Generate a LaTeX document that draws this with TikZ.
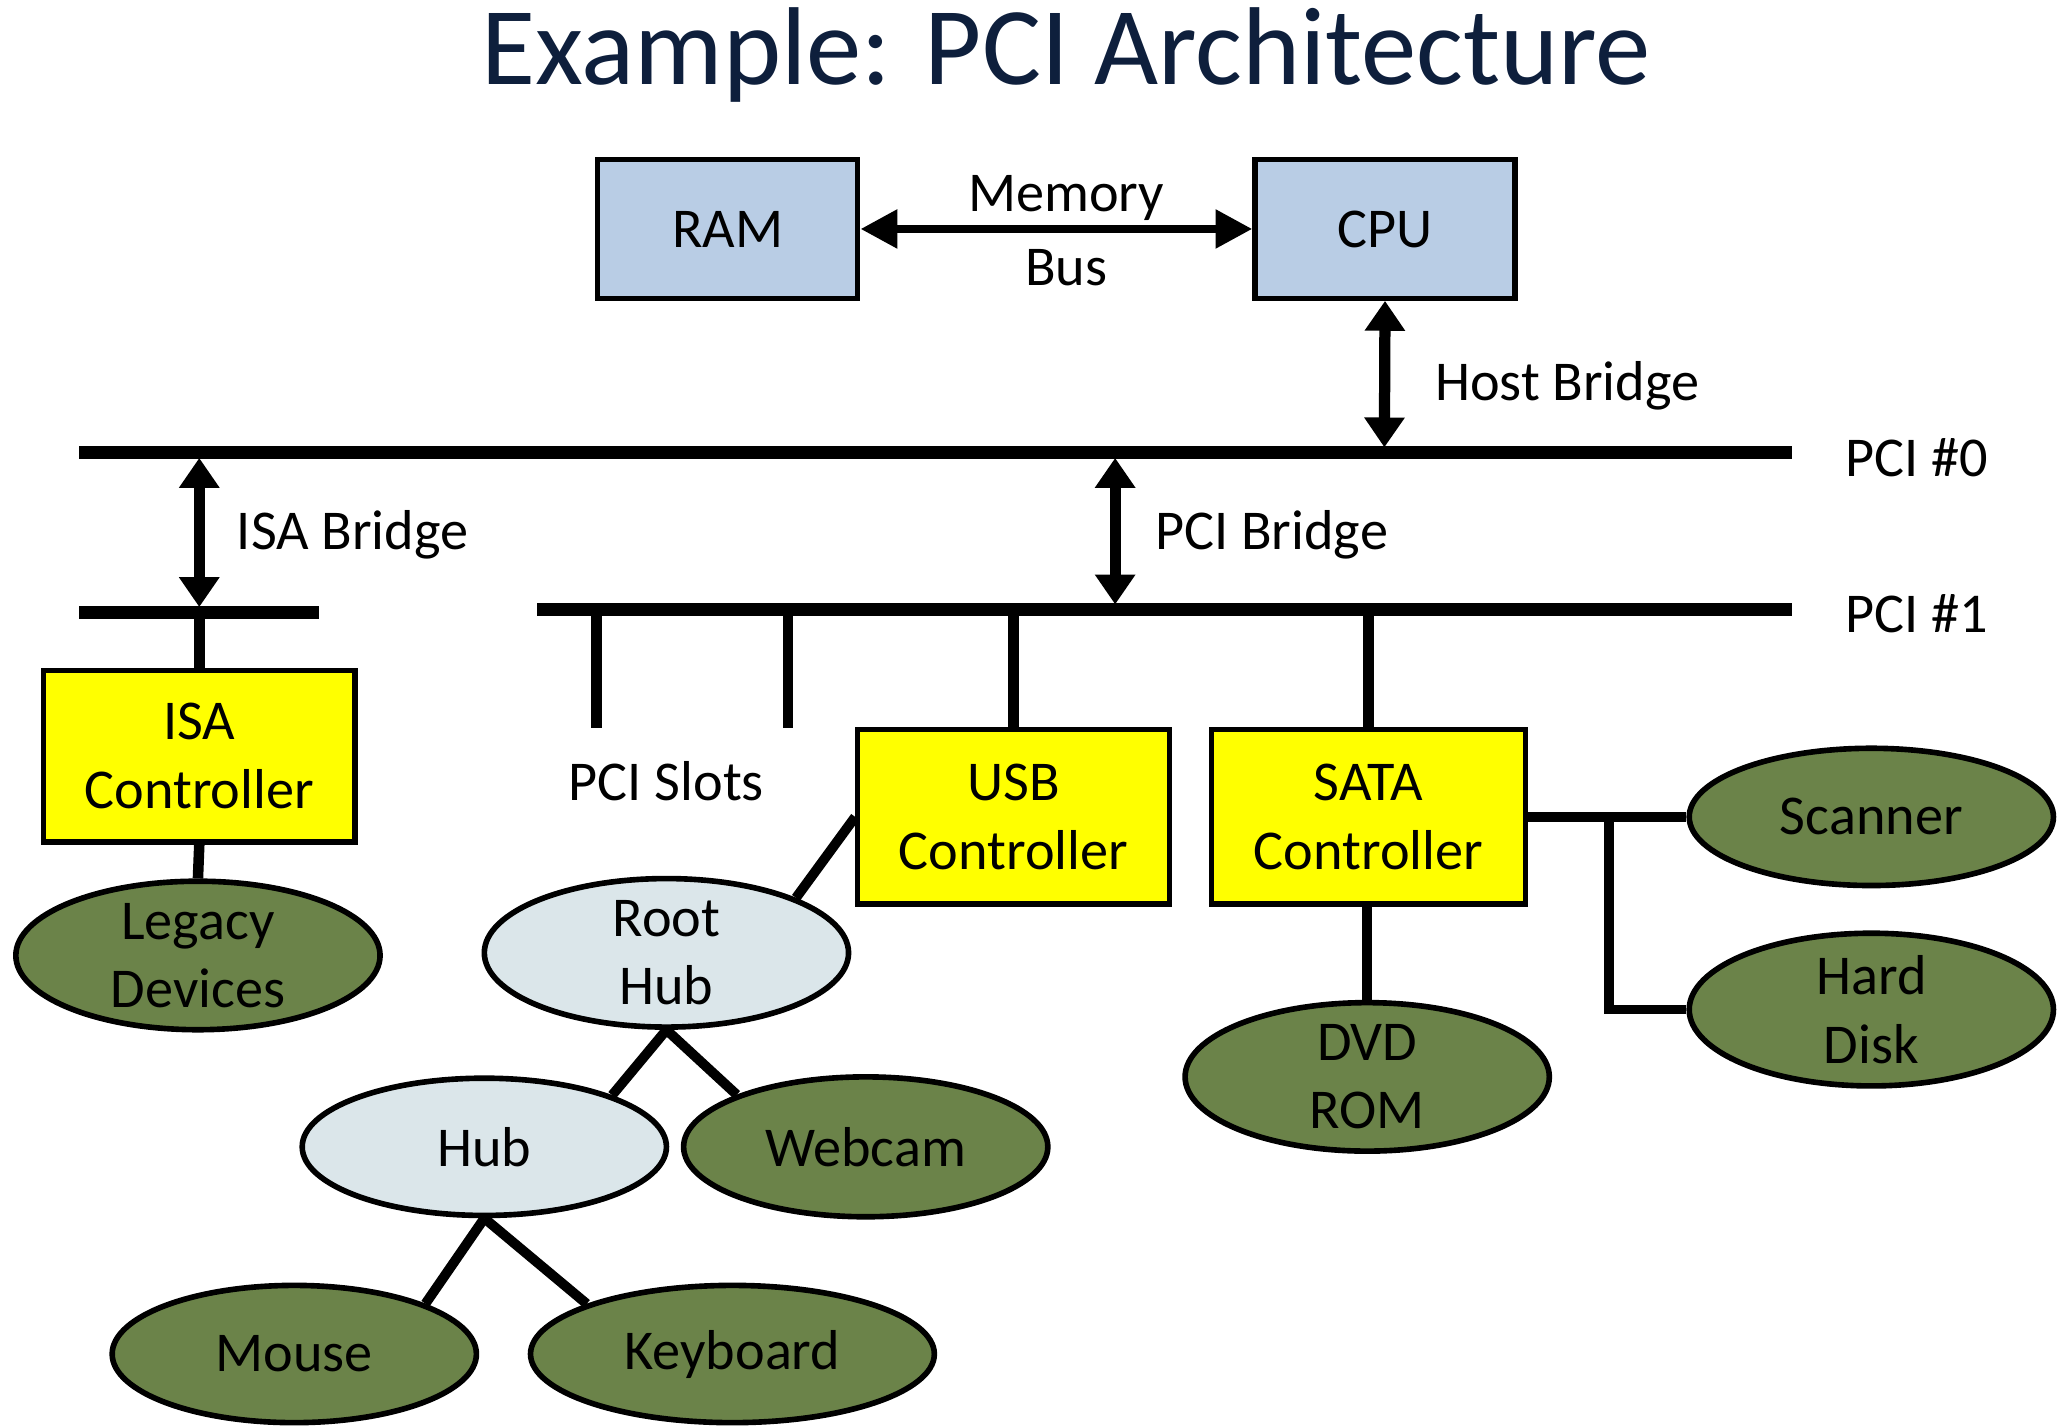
\documentclass[tikz,border=0pt]{standalone}
\usepackage{fontspec}
\setmainfont{Carlito}
\usetikzlibrary{arrows.meta,shapes.geometric}
\definecolor{ramblue}{HTML}{B9CDE5}
\definecolor{ctrlyellow}{HTML}{FFFF00}
\definecolor{devgreen}{HTML}{6B8349}
\definecolor{hubgrey}{HTML}{DBE6EA}
\definecolor{titlenavy}{HTML}{0E1F3C}
\newcommand{\pxu}{0.0132cm}
\tikzset{
  txt/.style={font=\fontsize{16}{19.5}\selectfont, align=center, inner sep=0pt},
  boxnode/.style={draw=black, line width=1.5pt, rectangle, inner sep=0pt, txt},
  devnode/.style={draw=black, line width=1.6pt, ellipse, inner sep=0pt, fill=devgreen, txt},
  hubnode/.style={draw=black, line width=1.6pt, ellipse, inner sep=0pt, fill=hubgrey, txt},
  busline/.style={line width=3.6pt},
  stubline/.style={line width=3pt},
  conn/.style={line width=2.8pt},
  dblarrow/.style={line width=2.5pt, {Triangle[length=10.5pt,width=10.5pt]}-{Triangle[length=10.5pt,width=10.5pt]}},
  vdblarrow/.style={line width=3.2pt, {Triangle[length=8.5pt,width=11pt]}-{Triangle[length=8.5pt,width=11pt]}},
}
\begin{document}
\begin{tikzpicture}[x=\pxu, y=-\pxu]
\useasboundingbox (0,0) rectangle (1564,1082);
\node[anchor=base, text=titlenavy, font=\fontsize{31.5}{36}\selectfont, inner sep=0pt] (title) at (808,64) {Example: PCI Architecture};

% boxes
\node[boxnode, fill=ramblue, minimum width=197*\pxu, minimum height=105*\pxu] (ram) at (551.5,173.5) {RAM};
\node[boxnode, fill=ramblue, minimum width=197*\pxu, minimum height=105*\pxu] (cpu) at (1049.5,173.5) {CPU};
\node[boxnode, fill=ctrlyellow, minimum width=236*\pxu, minimum height=130*\pxu] (isa) at (151,573) {ISA\\Controller};
\node[boxnode, fill=ctrlyellow, minimum width=236*\pxu, minimum height=132*\pxu] (usb) at (768,619) {USB\\Controller};
\node[boxnode, fill=ctrlyellow, minimum width=238*\pxu, minimum height=132*\pxu] (sata) at (1037,619) {SATA\\Controller};

% ellipses
\node[devnode, minimum width=276*\pxu, minimum height=106*\pxu] (legacy) at (150,724) {Legacy\\Devices};
\node[hubnode, minimum width=276*\pxu, minimum height=106*\pxu] (root) at (505,722) {Root\\Hub};
\node[hubnode, minimum width=276*\pxu, minimum height=104*\pxu] (hub) at (367,869) {Hub};
\node[devnode, minimum width=276*\pxu, minimum height=106*\pxu] (webcam) at (656,869) {Webcam};
\node[devnode, minimum width=276*\pxu, minimum height=104*\pxu] (mouse) at (223,1026) {Mouse};
\node[devnode, minimum width=306*\pxu, minimum height=104*\pxu] (keyboard) at (555,1026) {Keyboard};
\node[devnode, minimum width=276*\pxu, minimum height=106*\pxu] (dvd) at (1036,816) {DVD\\ROM};
\node[devnode, minimum width=276*\pxu, minimum height=104*\pxu] (scanner) at (1418,619) {Scanner};
\node[devnode, minimum width=276*\pxu, minimum height=104*\pxu] (hdd) at (1418,765) {Hard\\Disk};

% buses
\coordinate (p0l) at (60,343); \coordinate (p0r) at (1358,343);
\coordinate (p1l) at (407,462); \coordinate (p1r) at (1358,462);
\coordinate (isal) at (60,464); \coordinate (isar) at (242,464);
\draw[busline] (p0l) -- (p0r);
\draw[busline] (p1l) -- (p1r);
\draw[busline] (isal) -- (isar);
\node[txt, anchor=west] (pci0) at (1398,347) {PCI \#0};
\node[txt, anchor=west] (pci1) at (1398,465) {PCI \#1};

% bridges
\coordinate (hbbot) at (1049,339);
\draw[vdblarrow] (cpu.south) -- (hbbot);
\node[txt, anchor=west] (hblabel) at (1087,292) {Host Bridge};
\coordinate (isabt) at (151,347); \coordinate (isabb) at (151,460);
\draw[vdblarrow] (isabt) -- (isabb);
\node[txt, anchor=west] (isablabel) at (179,405) {ISA Bridge};
\coordinate (pcibt) at (845,347); \coordinate (pcibb) at (845,458);
\draw[vdblarrow] (pcibt) -- (pcibb);
\node[txt, anchor=west] (pciblabel) at (875,405) {PCI Bridge};
\draw[dblarrow] (ram.east) -- (cpu.west);
\node[txt] (mem1) at (808,150) {Memory};
\node[txt] (mem2) at (808,203) {Bus};

% stubs
\coordinate (isastub) at (151,464);
\draw[stubline] (isastub) -- (isa.north);
\draw[stubline] (isa.south) -- (legacy.north);
\coordinate (s1t) at (452,462); \coordinate (s1b) at (452,552);
\coordinate (s2t) at (597,462); \coordinate (s2b) at (597,552);
\draw[stubline] (s1t) -- (s1b);
\draw[stubline] (s2t) -- (s2b);
\node[txt] (slots) at (505,592) {PCI Slots};
\coordinate (usbt) at (768,462);
\draw[stubline] (usbt) -- (usb.north);
\coordinate (satat) at (1037,462);
\draw[stubline] (satat) -- (sata.north);
\draw[stubline] (sata.south -| dvd.north) -- (dvd.north);
\draw[conn] (sata.east) -- (scanner.west);
\coordinate (br) at (1219,619);
\draw[conn] (br) |- (hdd.west);

% usb tree
\draw[conn] (usb.west) -- (root.23.5);
\draw[conn] (root.south) -- (hub.22.6);
\draw[conn] (root.south) -- (webcam.158);
\draw[conn] (hub.south) -- (mouse.21);
\draw[conn] (hub.south) -- (keyboard.161.6);
\end{tikzpicture}
\end{document}
